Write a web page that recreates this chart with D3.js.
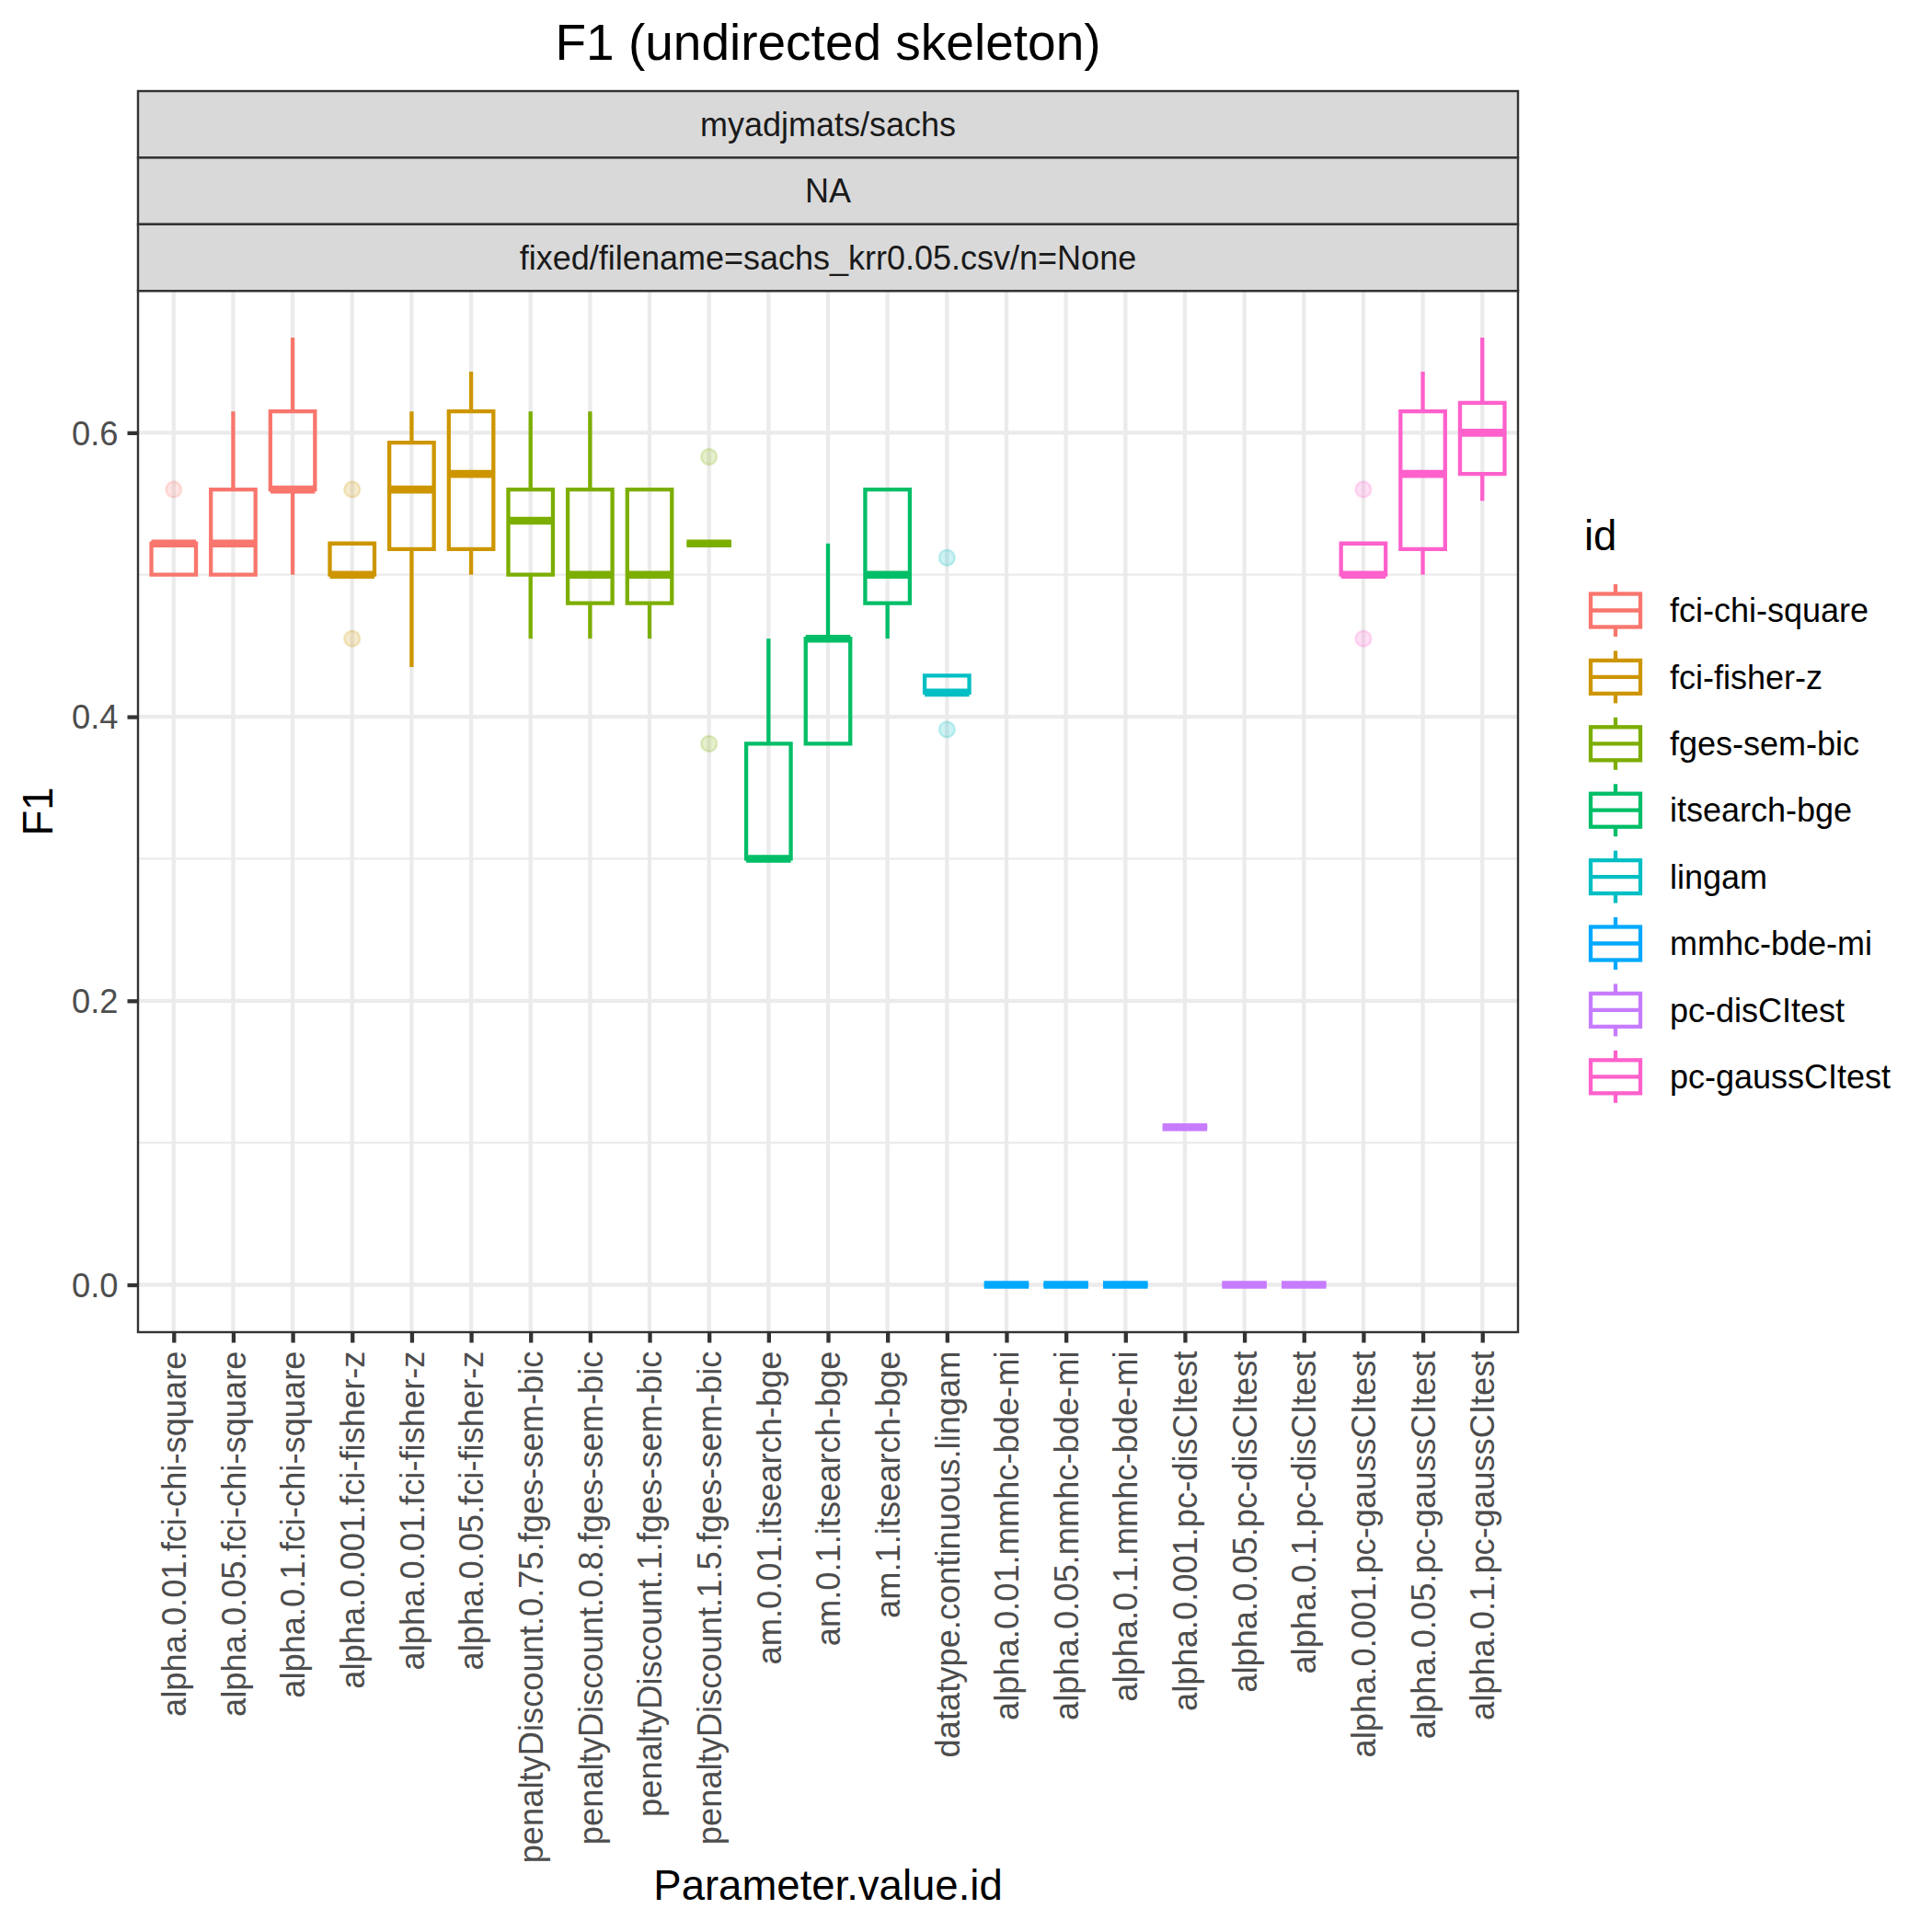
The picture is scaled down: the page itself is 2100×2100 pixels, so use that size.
<!DOCTYPE html>
<html>
<head>
<meta charset="utf-8">
<script src="https://cdn.jsdelivr.net/npm/d3@7"></script>
<style>
  body { margin: 0; background: #fff; }
  text { font-family: "Liberation Sans", Arial, Helvetica, sans-serif; }
</style>
</head>
<body>
<div id="grafico"></div>
<script>
// dados
const categorias = [
  "alpha.0.01.fci-chi-square", "alpha.0.05.fci-chi-square", "alpha.0.1.fci-chi-square",
  "alpha.0.001.fci-fisher-z", "alpha.0.01.fci-fisher-z", "alpha.0.05.fci-fisher-z",
  "penaltyDiscount.0.75.fges-sem-bic", "penaltyDiscount.0.8.fges-sem-bic",
  "penaltyDiscount.1.fges-sem-bic", "penaltyDiscount.1.5.fges-sem-bic",
  "am.0.01.itsearch-bge", "am.0.1.itsearch-bge", "am.1.itsearch-bge",
  "datatype.continuous.lingam",
  "alpha.0.01.mmhc-bde-mi", "alpha.0.05.mmhc-bde-mi", "alpha.0.1.mmhc-bde-mi",
  "alpha.0.001.pc-disCItest", "alpha.0.05.pc-disCItest", "alpha.0.1.pc-disCItest",
  "alpha.0.001.pc-gaussCItest", "alpha.0.05.pc-gaussCItest", "alpha.0.1.pc-gaussCItest"
];
const grupos = [
  "fci-chi-square", "fci-chi-square", "fci-chi-square",
  "fci-fisher-z", "fci-fisher-z", "fci-fisher-z",
  "fges-sem-bic", "fges-sem-bic", "fges-sem-bic", "fges-sem-bic",
  "itsearch-bge", "itsearch-bge", "itsearch-bge",
  "lingam",
  "mmhc-bde-mi", "mmhc-bde-mi", "mmhc-bde-mi",
  "pc-disCItest", "pc-disCItest", "pc-disCItest",
  "pc-gaussCItest", "pc-gaussCItest", "pc-gaussCItest"
];
const bigodeInf = [0.5, 0.5, 0.5, 0.5, 0.435, 0.5, 0.455, 0.455, 0.455, 0.522, 0.3, 0.381, 0.455, 0.417, 0, 0, 0, 0.111, 0, 0, 0.5, 0.5, 0.552];
const q1 =        [0.5, 0.5, 0.56, 0.5, 0.518, 0.518, 0.5, 0.48, 0.48, 0.522, 0.3, 0.381, 0.48, 0.417, 0, 0, 0, 0.111, 0, 0, 0.5, 0.518, 0.571];
const medianas =  [0.522, 0.522, 0.56, 0.5, 0.56, 0.571, 0.538, 0.5, 0.5, 0.522, 0.3, 0.455, 0.5, 0.417, 0, 0, 0, 0.111, 0, 0, 0.5, 0.571, 0.6];
const q3 =        [0.522, 0.56, 0.615, 0.522, 0.593, 0.615, 0.56, 0.56, 0.56, 0.522, 0.381, 0.455, 0.56, 0.429, 0, 0, 0, 0.111, 0, 0, 0.522, 0.615, 0.621];
const bigodeSup = [0.522, 0.615, 0.667, 0.522, 0.615, 0.643, 0.615, 0.615, 0.56, 0.522, 0.455, 0.522, 0.56, 0.429, 0, 0, 0, 0.111, 0, 0, 0.522, 0.643, 0.667];
const outliers = [
  [0.56], [], [], [0.56, 0.455], [], [], [], [], [], [0.583, 0.381],
  [], [], [], [0.512, 0.391], [], [], [], [], [], [], [0.56, 0.455], [], []
];
const ids = ["fci-chi-square", "fci-fisher-z", "fges-sem-bic", "itsearch-bge",
  "lingam", "mmhc-bde-mi", "pc-disCItest", "pc-gaussCItest"];
const cores = ["#F8766D", "#CD9600", "#7CAE00", "#00BE67", "#00BFC4", "#00A9FF", "#C77CFF", "#FF61CC"];
const ticksY = [0, 0.2, 0.4, 0.6];
const ticksYMenores = [0.1, 0.3, 0.5];
const faixas = ["myadjmats/sachs", "NA", "fixed/filename=sachs_krr0.05.csv/n=None"];

function criarGraficoBoxplot() {
    const largura = 2100, altura = 2100;
    const painel = { left: 150, right: 1650, top: 316, bottom: 1448 };
    const faixaTopo = 99, faixaAltura = 72.4;

    const svg = d3.select("#grafico").append("svg")
        .attr("width", largura).attr("height", altura);
    svg.append("rect").attr("width", largura).attr("height", altura).attr("fill", "#fff");

    const x = d3.scalePoint().domain(categorias).range([painel.left, painel.right]).padding(0.6);
    const y = d3.scaleLinear().domain([-0.03335, 0.7]).range([painel.bottom, painel.top]);
    const cor = d3.scaleOrdinal(ids, cores);
    const meia = x.step() * 0.375;

    // grade
    const grade = svg.append("g");
    grade.selectAll(".menor").data(ticksYMenores).enter().append("line")
        .attr("x1", painel.left).attr("x2", painel.right)
        .attr("y1", d => y(d)).attr("y2", d => y(d))
        .attr("stroke", "#EBEBEB").attr("stroke-width", 2.2);
    grade.selectAll(".maior").data(ticksY).enter().append("line")
        .attr("x1", painel.left).attr("x2", painel.right)
        .attr("y1", d => y(d)).attr("y2", d => y(d))
        .attr("stroke", "#EBEBEB").attr("stroke-width", 4.3);
    grade.selectAll(".vert").data(categorias).enter().append("line")
        .attr("x1", d => x(d)).attr("x2", d => x(d))
        .attr("y1", painel.top).attr("y2", painel.bottom)
        .attr("stroke", "#EBEBEB").attr("stroke-width", 4.3);

    // caixas
    const caixas = svg.selectAll(".caixa").data(categorias).enter().append("g")
        .attr("class", "caixa")
        .attr("stroke", (d, i) => cor(grupos[i]))
        .attr("fill", "none");
    caixas.append("line")
        .attr("x1", d => x(d)).attr("x2", d => x(d))
        .attr("y1", (d, i) => y(bigodeSup[i])).attr("y2", (d, i) => y(q3[i]))
        .attr("stroke-width", 4.3);
    caixas.append("line")
        .attr("x1", d => x(d)).attr("x2", d => x(d))
        .attr("y1", (d, i) => y(q1[i])).attr("y2", (d, i) => y(bigodeInf[i]))
        .attr("stroke-width", 4.3);
    caixas.append("path")
        .attr("d", (d, i) => `M${x(d) - meia},${y(q3[i])}H${x(d) + meia}V${y(q1[i])}H${x(d) - meia}Z`)
        .attr("stroke-width", 4.3).attr("stroke-linejoin", "miter");
    caixas.append("line")
        .attr("x1", d => x(d) - meia).attr("x2", d => x(d) + meia)
        .attr("y1", (d, i) => y(medianas[i])).attr("y2", (d, i) => y(medianas[i]))
        .attr("stroke-width", 8.6);

    // outliers
    const pontos = [];
    categorias.forEach((c, i) => outliers[i].forEach(v => pontos.push({ c, v, g: grupos[i] })));
    svg.selectAll(".outlier").data(pontos).enter().append("circle")
        .attr("cx", d => x(d.c)).attr("cy", d => y(d.v)).attr("r", 8.5)
        .attr("fill", d => cor(d.g)).attr("fill-opacity", 0.2)
        .attr("stroke", d => cor(d.g)).attr("stroke-opacity", 0.2).attr("stroke-width", 2.5);

    // borda do painel
    svg.append("rect")
        .attr("x", painel.left).attr("y", painel.top)
        .attr("width", painel.right - painel.left).attr("height", painel.bottom - painel.top)
        .attr("fill", "none").attr("stroke", "#333333").attr("stroke-width", 2.4);

    // faixas (strips)
    faixas.forEach((t, i) => {
        const y0 = faixaTopo + i * faixaAltura;
        svg.append("rect")
            .attr("x", painel.left).attr("y", y0)
            .attr("width", painel.right - painel.left).attr("height", faixaAltura)
            .attr("fill", "#D9D9D9").attr("stroke", "#333333").attr("stroke-width", 2.4);
        svg.append("text")
            .attr("x", (painel.left + painel.right) / 2).attr("y", y0 + faixaAltura / 2)
            .attr("dy", "0.35em").attr("text-anchor", "middle")
            .attr("font-size", 36).attr("fill", "#1A1A1A").text(t);
    });

    // eixo Y
    const eixoY = svg.append("g")
        .attr("transform", `translate(${painel.left},0)`)
        .call(d3.axisLeft(y).tickValues(ticksY).tickFormat(d3.format(".1f")).tickSize(11.5).tickPadding(10));
    eixoY.select(".domain").remove();
    eixoY.selectAll("line").attr("stroke", "#333333").attr("stroke-width", 4.3);
    eixoY.selectAll("text").attr("font-size", 36.3).attr("fill", "#4D4D4D")
        .attr("font-family", null).attr("dy", "0.35em");

    // eixo X
    const eixoX = svg.append("g")
        .attr("transform", `translate(0,${painel.bottom})`)
        .call(d3.axisBottom(x).tickSize(11.5));
    eixoX.select(".domain").remove();
    eixoX.selectAll("line").attr("stroke", "#333333").attr("stroke-width", 4.3);
    eixoX.selectAll("text")
        .attr("font-size", 36.3).attr("fill", "#4D4D4D").attr("font-family", null)
        .attr("y", 0).attr("x", -20.5).attr("dy", "0.35em")
        .attr("transform", "rotate(-90)")
        .style("text-anchor", "end");

    // títulos
    svg.append("text").attr("x", 900).attr("y", 65).attr("text-anchor", "middle")
        .attr("font-size", 55).attr("fill", "#000").text("F1 (undirected skeleton)");
    svg.append("text").attr("x", 900).attr("y", 2065).attr("text-anchor", "middle")
        .attr("font-size", 45.5).attr("fill", "#000").text("Parameter.value.id");
    svg.append("text").attr("transform", `translate(57,${(painel.top + painel.bottom) / 2}) rotate(-90)`)
        .attr("text-anchor", "middle")
        .attr("font-size", 45.5).attr("fill", "#000").text("F1");

    // legenda
    const legenda = svg.append("g");
    legenda.append("text").attr("x", 1722).attr("y", 598)
        .attr("font-size", 45.5).attr("fill", "#000").text("id");
    const chaves = legenda.selectAll(".chave").data(ids).enter().append("g")
        .attr("transform", (d, i) => `translate(1756,${663.5 + i * 72.4})`)
        .attr("stroke", d => cor(d)).attr("fill", "none").attr("stroke-width", 4.3);
    chaves.append("line").attr("x1", 0).attr("x2", 0).attr("y1", -28.5).attr("y2", -18);
    chaves.append("line").attr("x1", 0).attr("x2", 0).attr("y1", 18).attr("y2", 28.5);
    chaves.append("rect").attr("x", -27).attr("y", -18).attr("width", 54).attr("height", 36);
    chaves.append("line").attr("x1", -27).attr("x2", 27).attr("y1", 0).attr("y2", 0);
    legenda.selectAll(".rotulo").data(ids).enter().append("text")
        .attr("x", 1815).attr("y", (d, i) => 663.5 + i * 72.4).attr("dy", "0.35em")
        .attr("font-size", 36).attr("fill", "#000").text(d => d);
}

criarGraficoBoxplot();
</script>
</body>
</html>
